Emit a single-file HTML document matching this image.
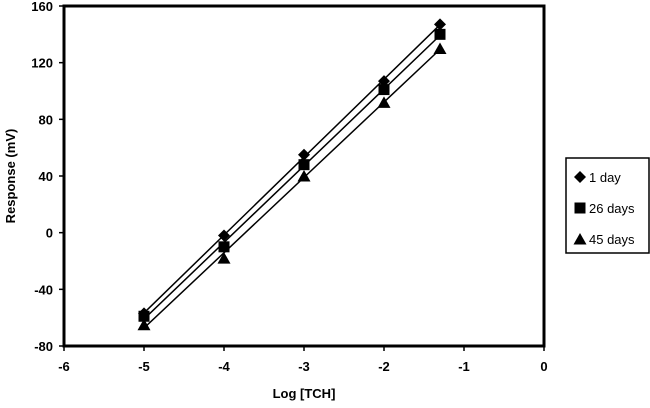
<!DOCTYPE html>
<html><head><meta charset="utf-8"><style>
body{margin:0;background:#fff;}
svg text{font-family:"Liberation Sans",Arial,sans-serif;font-weight:bold;fill:#000;}
</style></head><body>
<svg id="chart" width="650" height="403" xmlns="http://www.w3.org/2000/svg"></svg>
<script>
const xValues=[-5,-4,-3,-2,-1.3];
const series1Day=[-57,-2,55,107,147];
const series26Days=[-59,-10,48,101,140];
const series45Days=[-65,-18,40,92,130];
const seriesNames=["1 day","26 days","45 days"];
const xTicks=[-6,-5,-4,-3,-2,-1,0];
const yTicks=[-80,-40,0,40,80,120,160];

const L=64,R=544,T=6,B=346,NS="http://www.w3.org/2000/svg";
const sx=v=>L+(v+6)/6*(R-L);
const sy=v=>B-(v+80)/240*(B-T);
const svg=document.getElementById('chart');
function mk(tag,attrs,parent){const e=document.createElementNS(NS,tag);for(const k in attrs)e.setAttribute(k,attrs[k]);(parent||svg).appendChild(e);return e;}

const frame=mk('rect',{x:L,y:T,width:R-L,height:B-T,fill:'none',stroke:'#000','stroke-width':3});



const xg=mk('g',{});


xTicks.forEach(t=>{
  mk('line',{x1:sx(t),x2:sx(t),y1:B,y2:B+5,stroke:'#000','stroke-width':1.5},xg);
  const tx=mk('text',{x:sx(t),y:B+25,'text-anchor':'middle','font-size':13},xg);
  tx.textContent=t;
  
  
});
const yg=mk('g',{});


yTicks.forEach(t=>{
  mk('line',{x1:L-5,x2:L,y1:sy(t),y2:sy(t),stroke:'#000','stroke-width':1.5},yg);
  const tx=mk('text',{x:L-11,y:sy(t)+5,'text-anchor':'end','font-size':13},yg);
  tx.textContent=t;
  
  
});
const xt=mk('text',{x:(L+R)/2,y:398,'text-anchor':'middle','font-size':13});
xt.textContent='Log [TCH]';


const yt=mk('text',{x:0,y:0,'text-anchor':'middle','font-size':13,transform:`translate(15,${(T+B)/2}) rotate(-90)`});
yt.textContent='Response (mV)';



function marker(kind,x,y,g){
  if(kind===0) return mk('polygon',{points:`${x},${y-6} ${x+6},${y} ${x},${y+6} ${x-6},${y}`,fill:'#000'},g);
  if(kind===1) return mk('rect',{x:x-5.5,y:y-5.5,width:11,height:11,fill:'#000'},g);
  return mk('polygon',{points:`${x},${y-6} ${x+6.5},${y+5.5} ${x-6.5},${y+5.5}`,fill:'#000'},g);
}
const all=[series1Day,series26Days,series45Days];
all.forEach((ys,i)=>{
  const g=mk('g',{});
  
  
  const n=xValues.length,mx=xValues.reduce((a,b)=>a+b)/n,my=ys.reduce((a,b)=>a+b)/n;
  let sxy=0,sxx=0;xValues.forEach((x,j)=>{sxy+=(x-mx)*(ys[j]-my);sxx+=(x-mx)**2;});
  const m=sxy/sxx,b=my-m*mx,x0=xValues[0],x1=xValues[n-1];
  const ln=mk('line',{x1:sx(x0),y1:sy(m*x0+b),x2:sx(x1),y2:sy(m*x1+b),stroke:'#000','stroke-width':1.5},g);
  
  
  xValues.forEach((x,j)=>{
    const p=marker(i,sx(x),sy(ys[j]),g);
    
    
  });
});

const lg=mk('g',{});


mk('rect',{x:566,y:158,width:83,height:95,fill:'#fff',stroke:'#000','stroke-width':1.5},lg);
seriesNames.forEach((s,i)=>{
  const y=177+i*31;
  const e=mk('g',{},lg);
  
  
  marker(i,580,y,e);
  const t=mk('text',{x:589,y:y+5,'font-size':13,'font-weight':'normal'},e);
  t.setAttribute('font-weight','normal');
  t.style.fontWeight='normal';
  t.textContent=s;
});
</script>
</body></html>
